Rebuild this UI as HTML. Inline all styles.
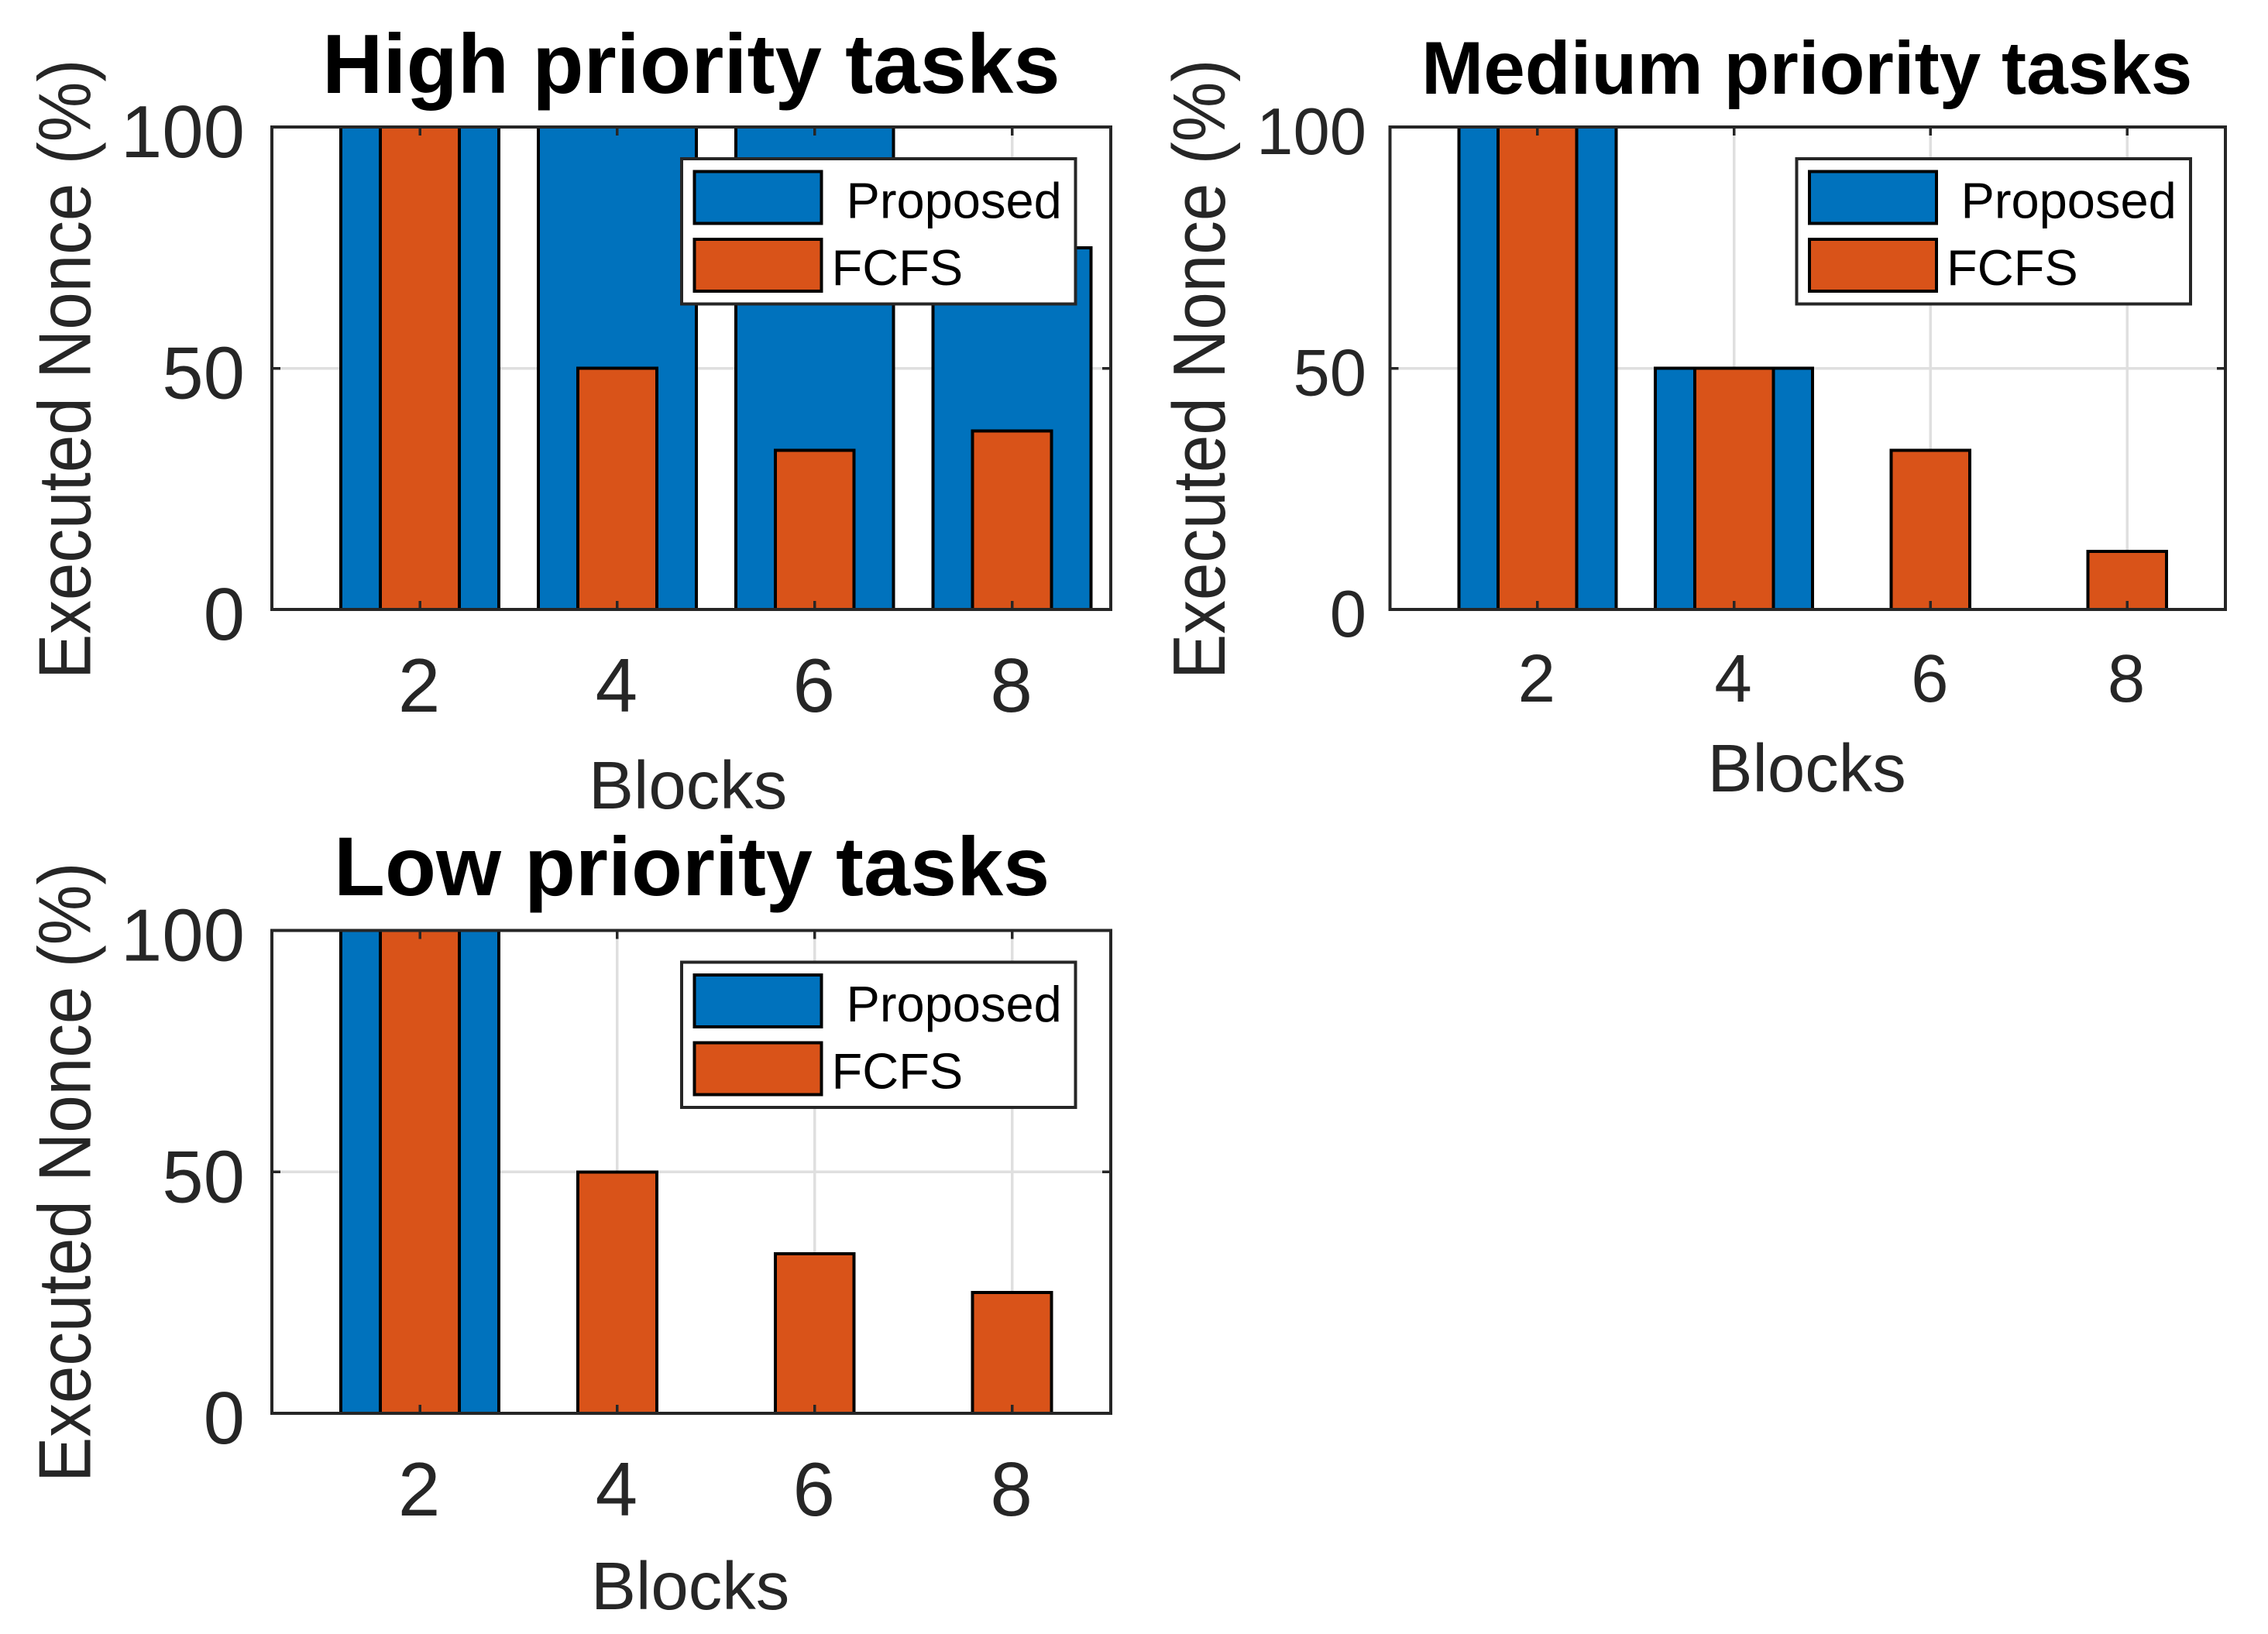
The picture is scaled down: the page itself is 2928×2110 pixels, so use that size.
<!DOCTYPE html>
<html lang="en">
<head>
<meta charset="utf-8">
<title>Executed Nonce by Priority</title>
<style>
html,body{margin:0;padding:0;background:#fff;}
svg{display:block;}
text{font-family:"Liberation Sans",Arial,sans-serif;}
.title{font-weight:700;fill:#000;}
.axlabel{fill:#262626;}
.tick{fill:#262626;}
.leg{fill:#000;font-size:65px;}
.crisp{shape-rendering:crispEdges;}
</style>
</head>
<body>
<svg id="fig" xmlns="http://www.w3.org/2000/svg" width="2928" height="2110" viewBox="0 0 2928 2110">
  <rect x="0" y="0" width="2928" height="2110" fill="#fff"/>

  <g>
    <g id="high-grid" class="crisp"></g>
    <g id="high-bars" class="crisp"></g>
    <rect class="crisp" x="351" y="164" width="1083" height="623" fill="none" stroke="#262626" stroke-width="4"/>
    <g id="high-ticks"></g>
    <g transform="translate(880,205)">
      <rect class="crisp" x="0" y="0" width="508.5" height="187.5" fill="#fff" stroke="#262626" stroke-width="4"/>
      <rect class="crisp" x="16.5" y="16.5" width="164" height="67" fill="#0072BD" stroke="#000" stroke-width="4"/>
      <rect class="crisp" x="16.5" y="104" width="164" height="67" fill="#D95319" stroke="#000" stroke-width="4"/>
      <text class="leg" x="212.5" y="76.7">Proposed</text>
      <text class="leg" x="193.5" y="163">FCFS</text>
    </g>
    <text class="title" x="416" y="120" font-size="108.5">High priority tasks</text>
    <text class="axlabel" transform="translate(116.5,877) rotate(-90) scale(1,1.1)" font-size="87.3">Executed Nonce (%)</text>
    <text class="axlabel" x="760" y="1044" font-size="87">Blocks</text>
  </g>

  <g>
    <g id="medium-grid" class="crisp"></g>
    <g id="medium-bars" class="crisp"></g>
    <rect class="crisp" x="1794.5" y="164" width="1078.5" height="623" fill="none" stroke="#262626" stroke-width="4"/>
    <g id="medium-ticks"></g>
    <g transform="translate(2319.5,205)">
      <rect class="crisp" x="0" y="0" width="508.5" height="187.5" fill="#fff" stroke="#262626" stroke-width="4"/>
      <rect class="crisp" x="16.5" y="16.5" width="164" height="67" fill="#0072BD" stroke="#000" stroke-width="4"/>
      <rect class="crisp" x="16.5" y="104" width="164" height="67" fill="#D95319" stroke="#000" stroke-width="4"/>
      <text class="leg" x="212" y="76.7">Proposed</text>
      <text class="leg" x="193.5" y="163">FCFS</text>
    </g>
    <text class="title" x="1835" y="121" font-size="96.3">Medium priority tasks</text>
    <text class="axlabel" transform="translate(1581,877) rotate(-90) scale(1,1.1)" font-size="87.3">Executed Nonce (%)</text>
    <text class="axlabel" x="2204.5" y="1022" font-size="87">Blocks</text>
  </g>

  <g>
    <g id="low-grid" class="crisp"></g>
    <g id="low-bars" class="crisp"></g>
    <rect class="crisp" x="351" y="1201.5" width="1083" height="623.5" fill="none" stroke="#262626" stroke-width="4"/>
    <g id="low-ticks"></g>
    <g transform="translate(880,1242.5)">
      <rect class="crisp" x="0" y="0" width="508.5" height="187.5" fill="#fff" stroke="#262626" stroke-width="4"/>
      <rect class="crisp" x="16.5" y="16.5" width="164" height="67" fill="#0072BD" stroke="#000" stroke-width="4"/>
      <rect class="crisp" x="16.5" y="104" width="164" height="67" fill="#D95319" stroke="#000" stroke-width="4"/>
      <text class="leg" x="212.5" y="76.7">Proposed</text>
      <text class="leg" x="193.5" y="163">FCFS</text>
    </g>
    <text class="title" x="431" y="1156" font-size="108">Low priority tasks</text>
    <text class="axlabel" transform="translate(116.5,1914) rotate(-90) scale(1,1.1)" font-size="87.3">Executed Nonce (%)</text>
    <text class="axlabel" x="763" y="2078" font-size="87">Blocks</text>
  </g>
</svg>

<script>
// Chart data
const categories = [2, 4, 6, 8];
const xTickLabels = ["2", "4", "6", "8"];
const yTickValues = [0, 50, 100];
const yTickLabels = ["0", "50", "100"];
const highProposed = [100, 100, 100, 75];
const highFcfs = [100, 50, 33, 37];
const mediumProposed = [100, 50, 0, 0];
const mediumFcfs = [100, 50, 33, 12];
const lowProposed = [100, 0, 0, 0];
const lowFcfs = [100, 50, 33, 25];

const X_MIN = 0.5, X_MAX = 9, Y_MIN = 0, Y_MAX = 100;
const PROPOSED_WIDTH = 1.6, FCFS_WIDTH = 0.8;
const NS = "http://www.w3.org/2000/svg";

function make(tag, attrs, parent) {
  const el = document.createElementNS(NS, tag);
  for (const k in attrs) el.setAttribute(k, attrs[k]);
  parent.appendChild(el);
  return el;
}

function drawPanel(id, proposed, fcfs, box, fonts) {
  const xScale = function (v) { return box.left + (v - X_MIN) / (X_MAX - X_MIN) * (box.right - box.left); };
  const yScale = function (v) { return box.bottom - (v - Y_MIN) / (Y_MAX - Y_MIN) * (box.bottom - box.top); };
  const grid = document.getElementById(id + "-grid");
  const bars = document.getElementById(id + "-bars");
  const ticks = document.getElementById(id + "-ticks");
  const tickLen = 11;

  categories.forEach(function (c, i) {
    const gx = make("line", { x1: xScale(c), x2: xScale(c), y1: box.top, y2: box.bottom, stroke: "#dfdfdf", "stroke-width": 3.5 }, grid);
    
    

    const t1 = make("line", { class: "crisp", x1: xScale(c), x2: xScale(c), y1: box.bottom, y2: box.bottom - tickLen, stroke: "#262626", "stroke-width": 3.5 }, ticks);
    
    

    const t2 = make("line", { class: "crisp", x1: xScale(c), x2: xScale(c), y1: box.top, y2: box.top + tickLen, stroke: "#262626", "stroke-width": 3.5 }, ticks);
    
    

    const lab = make("text", { class: "tick", x: xScale(c) - 1, y: fonts.xBaseline, "font-size": fonts.xSize, "text-anchor": "middle" }, ticks);
    
    
    lab.textContent = xTickLabels[i];
  });

  yTickValues.forEach(function (v, i) {
    if (v !== Y_MIN && v !== Y_MAX) {
      const gy = make("line", { x1: box.left, x2: box.right, y1: yScale(v), y2: yScale(v), stroke: "#dfdfdf", "stroke-width": 3.5 }, grid);
      
      
    }
    const t1 = make("line", { class: "crisp", x1: box.left, x2: box.left + tickLen, y1: yScale(v), y2: yScale(v), stroke: "#262626", "stroke-width": 3.5 }, ticks);
    
    

    const t2 = make("line", { class: "crisp", x1: box.right, x2: box.right - tickLen, y1: yScale(v), y2: yScale(v), stroke: "#262626", "stroke-width": 3.5 }, ticks);
    
    

    const lab = make("text", { class: "tick", x: fonts.yRight, y: yScale(v) + fonts.yOffset, "font-size": fonts.ySize, "text-anchor": "end" }, ticks);
    
    
    lab.textContent = yTickLabels[i];
  });

  categories.forEach(function (c, i) {
    const b = make("rect", {
      x: xScale(c - PROPOSED_WIDTH / 2),
      y: yScale(proposed[i]),
      width: xScale(c + PROPOSED_WIDTH / 2) - xScale(c - PROPOSED_WIDTH / 2),
      height: yScale(0) - yScale(proposed[i]),
      fill: "#0072BD", stroke: "#000", "stroke-width": 4
    }, bars);
    
    
  });

  categories.forEach(function (c, i) {
    const b = make("rect", {
      x: xScale(c - FCFS_WIDTH / 2),
      y: yScale(fcfs[i]),
      width: xScale(c + FCFS_WIDTH / 2) - xScale(c - FCFS_WIDTH / 2),
      height: yScale(0) - yScale(fcfs[i]),
      fill: "#D95319", stroke: "#000", "stroke-width": 4
    }, bars);
    
    
  });
}

drawPanel("high", highProposed, highFcfs,
  { left: 351, right: 1434, top: 164, bottom: 787 },
  { xSize: 98, xBaseline: 919, ySize: 96, yRight: 316, yOffset: 39 });
drawPanel("medium", mediumProposed, mediumFcfs,
  { left: 1794.5, right: 2873, top: 164, bottom: 787 },
  { xSize: 87, xBaseline: 906, ySize: 85, yRight: 1764, yOffset: 35 });
drawPanel("low", lowProposed, lowFcfs,
  { left: 351, right: 1434, top: 1201.5, bottom: 1825 },
  { xSize: 98, xBaseline: 1957, ySize: 96, yRight: 316, yOffset: 39 });
</script>
</body>
</html>
